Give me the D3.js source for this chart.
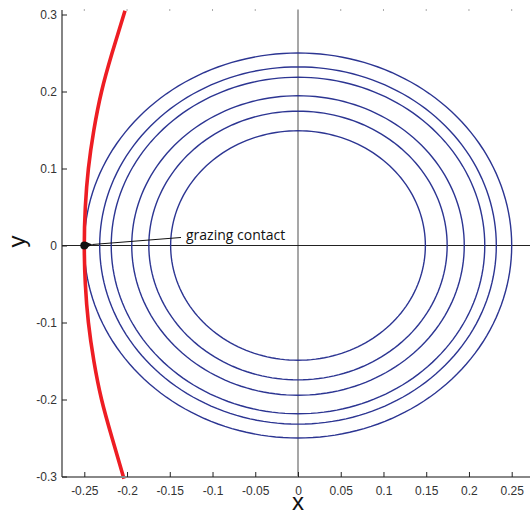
<!DOCTYPE html>
<head>
<meta charset="utf-8">
<style>
body { margin: 0; background: #fff; }
.tick text { font: 12px Arial, "Liberation Sans", sans-serif; fill: #333; }
.ring { fill: none; stroke: #2c3592; stroke-width: 1.4px; }
.boundary { fill: none; stroke: #ee1d23; stroke-width: 3.6px; }
</style>
</head>
<body>
<script src="https://cdn.jsdelivr.net/npm/d3@7"></script>
<script>
// radii of the level circles
var radii = [0.149, 0.1745, 0.1945, 0.2185, 0.232, 0.25];
// red boundary curve
var redY = [0.305, 0.25, 0.2, 0.15, 0.1, 0.05, 0, -0.05, -0.1, -0.15, -0.2, -0.25, -0.303];
var redX = [-0.2024, -0.2175, -0.2298, -0.2388, -0.2452, -0.2488, -0.25, -0.2488, -0.2452, -0.2388, -0.2298, -0.2175, -0.2036];
var xTicks = [-0.25, -0.2, -0.15, -0.1, -0.05, 0, 0.05, 0.1, 0.15, 0.2, 0.25];
var yTicks = [-0.3, -0.2, -0.1, 0, 0.1, 0.2, 0.3];
var contactPt = [-0.25, 0];
var noteText = "grazing contact";
var notePos = [-0.131, 0.013];

(function() {
var W = 530, H = 511;
var x = d3.scaleLinear().domain([-0.25, 0.25]).range([84.3, 511.7]);
var y = d3.scaleLinear().domain([-0.3, 0.3]).range([476.5, 14.5]);
var pl = 62, pr = W, pt = 10, pb = 477;

var svg = d3.select("body").append("svg").attr("width", W).attr("height", H);

// zero lines
svg.append("line").attr("x1", x(0)).attr("x2", x(0)).attr("y1", pt).attr("y2", pb)
  .attr("stroke", "#8a8a8a").attr("stroke-width", 1.5);
svg.append("line").attr("x1", pl).attr("x2", pr).attr("y1", y(0)).attr("y2", y(0))
  .attr("stroke", "#222").attr("stroke-width", 1.1);

// top tiny tick marks
svg.selectAll(".ttick").data(xTicks).enter().append("line")
  .attr("x1", function(d) { return x(d); }).attr("x2", function(d) { return x(d); })
  .attr("y1", pt - 1).attr("y2", pt + 1)
  .attr("stroke", "#aaa").attr("stroke-width", 1);

// circles
var circ = d3.line().x(function(d) { return x(d[0]); }).y(function(d) { return y(d[1]); });
svg.selectAll(".ring").data(radii).enter().append("path").attr("class", "ring")
  .attr("d", function(r) {
    var pts = d3.range(0, 361, 2).map(function(a) {
      var t = a * Math.PI / 180;
      return [r * Math.cos(t), r * Math.sin(t)];
    });
    return circ(pts);
  });

// red boundary
svg.append("path").attr("class", "boundary")
  .attr("d", d3.line().curve(d3.curveNatural)
    .x(function(d, i) { return x(redX[i]); })
    .y(function(d) { return y(d); })(redY));

// axes
var gx = svg.append("g").attr("transform", "translate(0," + pb + ")")
  .call(d3.axisBottom(x).tickValues(xTicks).tickSize(-5).tickPadding(9)
    .tickFormat(function(d) { return String(+d.toFixed(2)); }));
gx.select(".domain").attr("d", "M" + pl + ",0H" + pr).attr("stroke", "#888").attr("stroke-width", 2);
gx.selectAll(".tick line").attr("stroke", "#222");

var gy = svg.append("g").attr("transform", "translate(" + pl + ",0)")
  .call(d3.axisLeft(y).tickValues(yTicks).tickSize(-5).tickPadding(5)
    .tickFormat(function(d) { return String(+d.toFixed(1)); }));
gy.select(".domain").attr("d", "M0," + pt + "V" + pb).attr("stroke", "#333").attr("stroke-width", 1.2);
gy.selectAll(".tick line").attr("stroke", "#222");

// axis titles
svg.append("text").attr("x", x(0)).attr("y", 510).attr("text-anchor", "middle")
  .style("font", "24px Arial, sans-serif").attr("fill", "#111").text("x");
svg.append("text").attr("transform", "translate(25," + (y(0) - 4) + ") rotate(-90)")
  .attr("text-anchor", "middle")
  .style("font", "24px Arial, sans-serif").attr("fill", "#111").text("y");

// annotation
svg.append("defs").append("marker").attr("id", "ah").attr("viewBox", "0 0 10 10")
  .attr("refX", 0).attr("refY", 5).attr("markerWidth", 12).attr("markerHeight", 7)
  .attr("markerUnits", "userSpaceOnUse").attr("orient", "auto")
  .append("path").attr("d", "M0,5L10,0L10,10Z").attr("fill", "#111");
svg.append("line")
  .attr("x1", x(notePos[0]) - 5).attr("y1", y(notePos[1]) + 2)
  .attr("x2", x(contactPt[0]) + 8).attr("y2", y(contactPt[1]) - 1)
  .attr("stroke", "#111").attr("stroke-width", 1)
  .attr("marker-end", "url(#ah)");
svg.append("circle").attr("cx", x(contactPt[0])).attr("cy", y(contactPt[1])).attr("r", 4)
  .attr("fill", "#111");
svg.append("text").attr("x", x(notePos[0])).attr("y", y(notePos[1]) + 5)
  .style("font", "14px 'Open Sans', sans-serif").attr("fill", "#111").text(noteText);
})();
</script>
</body>
